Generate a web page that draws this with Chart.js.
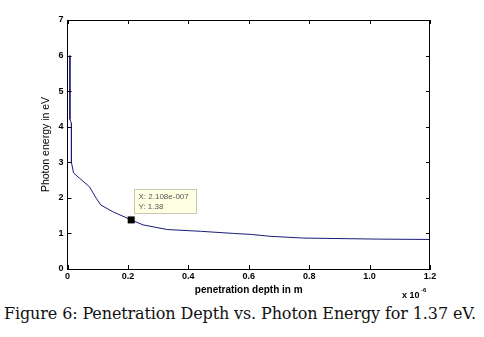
<!DOCTYPE html>
<html>
<head>
<meta charset="utf-8">
<script src="https://cdn.jsdelivr.net/npm/chart.js@4/dist/chart.umd.min.js"></script>
<style>
  body { margin: 0; background: #fff; }
  #wrap { position: relative; width: 484px; height: 337px; }
  #chart { position: absolute; left: 0; top: 0; }
  #caption {
    position: absolute; left: 4px; top: 304px;
    font-family: "DejaVu Serif", serif; font-size: 16px; color: #111;
    letter-spacing: -0.12px; white-space: nowrap;
  }
</style>
</head>
<body>
<div id="wrap">
  <canvas id="chart" width="484" height="300"></canvas>
  <div id="caption">Figure 6: Penetration Depth vs. Photon Energy for 1.37 eV.</div>
</div>
<script>
// penetration depth (x 10^-6 m) and photon energy (eV)
const depth = [0.008, 0.008, 0.013, 0.013, 0.02, 0.04, 0.073, 0.095, 0.11, 0.15, 0.2108, 0.25, 0.33, 0.44, 0.55, 0.61, 0.67, 0.78, 1.03, 1.2];
const energy = [6.0, 4.2, 4.1, 3.0, 2.7, 2.55, 2.31, 1.99, 1.80, 1.61, 1.38, 1.24, 1.11, 1.06, 1.0, 0.97, 0.92, 0.87, 0.84, 0.83];

const xTicks = [0, 0.2, 0.4, 0.6, 0.8, 1, 1.2];
const yTicks = [0, 1, 2, 3, 4, 5, 6, 7];

// data cursor
const tipX = [0.2108];
const tipY = [1.38];
const tipText = ["X: 2.108e-007", "Y: 1.38"];

const points = depth.map((d, i) => ({ x: d, y: energy[i] }));

const tickFont = { family: "Liberation Sans, Arial", size: 9, weight: "bold" };

// inward ticks on all four sides, top/right box lines, cursor, exponent label
const matlabBox = {
  id: "matlabBox",
  afterDraw(chart) {
    const ctx = chart.ctx;
    const a = chart.chartArea;
    const xs = chart.scales.x, ys = chart.scales.y;
    ctx.save();
    ctx.strokeStyle = "#000";
    ctx.lineWidth = 1;
    ctx.beginPath();
    ctx.moveTo(a.left, a.top + 0.5); ctx.lineTo(a.right, a.top + 0.5);
    ctx.moveTo(a.right - 0.5, a.top); ctx.lineTo(a.right - 0.5, a.bottom);
    xTicks.forEach(v => {
      const px = Math.round(xs.getPixelForValue(v)) + 0.5;
      ctx.moveTo(px, a.bottom); ctx.lineTo(px, a.bottom - 4);
      ctx.moveTo(px, a.top); ctx.lineTo(px, a.top + 4);
    });
    yTicks.forEach(v => {
      const py = Math.round(ys.getPixelForValue(v)) + 0.5;
      ctx.moveTo(a.left, py); ctx.lineTo(a.left + 4, py);
      ctx.moveTo(a.right, py); ctx.lineTo(a.right - 4, py);
    });
    ctx.stroke();

    // cursor marker and tip box
    const mx = xs.getPixelForValue(tipX[0]);
    const my = ys.getPixelForValue(tipY[0]);
    ctx.fillStyle = "#000";
    ctx.fillRect(mx - 3.5, my - 3.5, 7, 7);
    const bx = Math.round(mx) + 3.5, by = Math.round(my) - 30.5;
    ctx.fillStyle = "#ffffe4";
    ctx.strokeStyle = "#c8c8b0";
    ctx.fillRect(bx, by, 62, 24);
    ctx.strokeRect(bx, by, 62, 24);
    ctx.fillStyle = "#555";
    ctx.font = "8px Liberation Sans, Arial";
    ctx.textBaseline = "middle";
    ctx.fillText(tipText[0], bx + 4, by + 7);
    ctx.fillText(tipText[1], bx + 4, by + 17);

    // x 10^-6
    ctx.fillStyle = "#000";
    ctx.font = "bold 9px Liberation Sans, Arial";
    ctx.textBaseline = "alphabetic";
    ctx.fillText("x 10", 402, 298);
    ctx.font = "bold 6px Liberation Sans, Arial";
    ctx.fillText("-6", 421, 292);
    ctx.restore();
  }
};

new Chart(document.getElementById("chart"), {
  type: "scatter",
  data: {
    datasets: [{
      data: points,
      showLine: true,
      borderColor: "#1c1c7a",
      borderWidth: 1,
      pointRadius: 0,
      tension: 0
    }]
  },
  options: {
    responsive: false,
    animation: false,
    layout: { padding: { left: 0, top: 20, right: 54, bottom: 0 } },
    plugins: { legend: { display: false }, tooltip: { enabled: false } },
    scales: {
      x: {
        type: "linear", min: 0, max: 1.2,
        afterBuildTicks: s => { s.ticks = xTicks.map(v => ({ value: v })); },
        afterFit: s => { s.height = 31; },
        grid: { display: false, drawTicks: false },
        border: { color: "#000", width: 1 },
        ticks: { font: tickFont, color: "#000", padding: 2, maxRotation: 0 },
        title: { display: true, text: "penetration depth in m", font: { family: "Liberation Sans, Arial", size: 10, weight: "bold" }, color: "#000", padding: { top: 0, bottom: 4 } }
      },
      y: {
        type: "linear", min: 0, max: 7,
        afterBuildTicks: s => { s.ticks = yTicks.map(v => ({ value: v })); },
        afterFit: s => { s.width = 67.5; },
        grid: { display: false, drawTicks: false },
        border: { color: "#000", width: 1 },
        ticks: { font: tickFont, color: "#000", padding: 4 },
        title: { display: true, text: "Photon energy in eV", font: { family: "Liberation Sans, Arial", size: 10.5 }, color: "#000", padding: { top: 40, bottom: 0 } }
      }
    }
  },
  plugins: [matlabBox]
});
</script>
</body>
</html>
